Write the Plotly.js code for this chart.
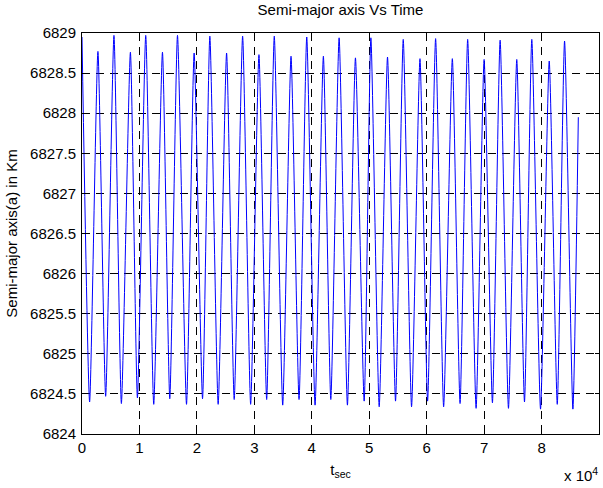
<!DOCTYPE html>
<html><head><meta charset="utf-8">
<script src="https://cdn.plot.ly/plotly-3.0.1.min.js"></script>
<style>html,body{margin:0;padding:0;background:#fff}#chart{width:603px;height:488px}</style>
</head><body><div id="chart"></div>
<script>
// Values (seconds, km)
const startT = [0];
const startV = [6828.95];
const peakT = [2773, 5564, 8425, 11094, 14006, 16623, 19519, 22257, 25170, 27961,
               30804, 33473, 36386, 39124, 42020, 44758, 47602, 50288, 53183, 55922,
               58835, 61556, 64469, 67138, 70000, 72789, 75685, 78301, 81336, 84004];
const peakV = [6828.77, 6828.97, 6828.76, 6828.97, 6828.76, 6828.97, 6828.75, 6828.96, 6828.75, 6828.96,
               6828.73, 6828.96, 6828.71, 6828.95, 6828.71, 6828.94, 6828.69, 6828.94, 6828.70, 6828.92,
               6828.68, 6828.93, 6828.68, 6828.92, 6828.67, 6828.91, 6828.67, 6828.92, 6828.65, 6828.90];
const troughT = [1326, 4117, 6855, 9646, 12489, 15280, 18193, 20984, 23705, 26496,
                 29357, 32148, 34939, 37782, 40573, 43312, 46207, 49120, 51737, 54580,
                 57371, 60162, 62953, 65814, 68605, 71448, 74239, 77030, 79821, 82734, 85455];
const troughV = [6824.40, 6824.47, 6824.38, 6824.45, 6824.37, 6824.44, 6824.37, 6824.44, 6824.37, 6824.43,
                 6824.37, 6824.43, 6824.36, 6824.43, 6824.36, 6824.43, 6824.36, 6824.41, 6824.34, 6824.41,
                 6824.34, 6824.41, 6824.34, 6824.38, 6824.32, 6824.39, 6824.32, 6824.40, 6824.31, 6824.37, 6824.31];
const endT = [86400];
const endV = [6827.95];

const xTickVals = [0, 10000, 20000, 30000, 40000, 50000, 60000, 70000, 80000, 90000];
const xTickText = ['0', '1', '2', '3', '4', '5', '6', '7', '8', '9'];
const yTickVals = [6824, 6824.5, 6825, 6825.5, 6826, 6826.5, 6827, 6827.5, 6828, 6828.5, 6829];
const yTickText = ['6824', '6824.5', '6825', '6825.5', '6826', '6826.5', '6827', '6827.5', '6828', '6828.5', '6829'];

const pts = [];
startT.forEach((t, i) => pts.push([t, startV[i]]));
peakT.forEach((t, i) => pts.push([t, peakV[i]]));
troughT.forEach((t, i) => pts.push([t, troughV[i]]));
endT.forEach((t, i) => pts.push([t, endV[i]]));
pts.sort((a, b) => a[0] - b[0]);

const FONT = 'Liberation Sans, Arial, Helvetica, sans-serif';

const trace = {
  x: pts.map(p => p[0]),
  y: pts.map(p => p[1]),
  type: 'scatter',
  mode: 'lines',
  line: {color: '#0000ff', width: 1, shape: 'spline', smoothing: 0.55},
  hoverinfo: 'skip'
};

const axisCommon = {
  showline: true, linecolor: '#000', linewidth: 1, mirror: 'ticks',
  ticks: 'inside', ticklen: 4, tickcolor: '#000', tickwidth: 1,
  showgrid: true, gridcolor: '#000', gridwidth: 1, griddash: '8px,6px',
  zeroline: false,
  tickfont: {family: FONT, size: 15, color: '#000'}
};

const layout = {
  width: 603, height: 488,
  margin: {l: 82, r: 4, t: 33, b: 54},
  paper_bgcolor: '#fff', plot_bgcolor: '#fff',
  showlegend: false,
  font: {family: FONT, size: 15, color: '#000'},
  title: {text: 'Semi-major axis Vs Time', font: {family: FONT, size: 15, color: '#000'},
          x: 0.5, xref: 'paper', xanchor: 'center', y: 1 - 10/488, yref: 'container', yanchor: 'middle'},
  xaxis: Object.assign({}, axisCommon, {
    range: [0, 90000], tickmode: 'array', tickvals: xTickVals, ticktext: xTickText,
    ticklabelstandoff: 0,
    title: {text: 't<sub>sec</sub>', font: {family: FONT, size: 15, color: '#000'}, standoff: 9}
  }),
  yaxis: Object.assign({}, axisCommon, {
    range: [6824, 6829], tickmode: 'array', tickvals: yTickVals, ticktext: yTickText,
    ticklabelstandoff: 2,
    title: {text: 'Semi-major axis(a) in Km', font: {family: FONT, size: 15, color: '#000'}, standoff: 8}
  }),
  annotations: [{
    text: 'x 10<sup>4</sup>', xref: 'paper', yref: 'paper', x: 1.002, y: -0.1,
    xanchor: 'right', yanchor: 'middle', showarrow: false,
    font: {family: FONT, size: 15, color: '#000'}
  }]
};

Plotly.newPlot('chart', [trace], layout, {displayModeBar: false, staticPlot: true});
</script>
</body></html>
